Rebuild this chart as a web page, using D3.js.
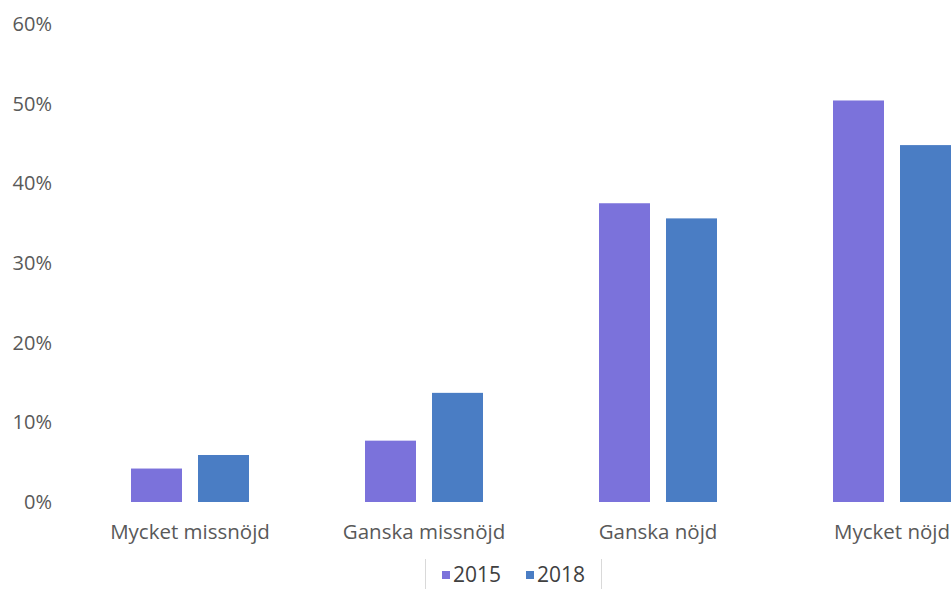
<!DOCTYPE html>
<html>
<head>
<meta charset="utf-8">
<script src="https://cdn.jsdelivr.net/npm/d3@7"></script>
<style>
  body { margin: 0; background: #fff; }
  svg { display: block; }
</style>
</head>
<body>
<div id="chart"></div>
<script>
// data
var categories = ["Mycket missnöjd", "Ganska missnöjd", "Ganska nöjd", "Mycket nöjd"];
var years = ["2015", "2018"];
var values2015 = [4.2, 7.7, 37.5, 50.4];
var values2018 = [5.9, 13.7, 35.6, 44.8];
var yTicks = [0, 10, 20, 30, 40, 50, 60];
var colors = ["#7b72db", "#4a7dc4"];

var width = 951, height = 589;

var svg = d3.select('#chart').append('svg')
  .attr("width", width)
  .attr("height", height);

var x = d3.scaleBand()
  .domain(categories)
  .range([73, 1009])
  .padding(0);

var xInner = d3.scaleBand()
  .domain(years)
  .range([0, 118])
  .paddingInner(0.239)
  .paddingOuter(0);

var y = d3.scaleLinear()
  .domain([0, 60])
  .range([502, 24]);

var color = d3.scaleOrdinal().domain(years).range(colors);

var rows = categories.map(function(c, i){
  return {cat: c, vals: [
    {year: "2015", v: values2015[i]},
    {year: "2018", v: values2018[i]}
  ]};
});

// y axis labels only, no line
var yAxis = d3.axisLeft(y)
  .tickValues(yTicks)
  .tickFormat(function(d){ return d + "%"; })
  .tickSize(0)
  .tickPadding(0);

var gy = svg.append("g")
  .attr("transform", "translate(52,0)")
  .call(yAxis);
gy.select(".domain").remove();
gy.selectAll("text")
  .attr("font-family", "Open Sans")
  .attr("font-size", "20px")
  .attr("fill", "#595959");

var groups = svg.selectAll(".grp")
  .data(rows)
  .enter()
  .append("g")
  .attr("class", "grp")
  .attr("transform", function(d){ return "translate(" + (x(d.cat) + (x.bandwidth() - 118) / 2) + ",0)"; });

groups.selectAll("rect")
  .data(function(d){ return d.vals; })
  .enter()
  .append("rect")
  .attr("x", function(d){ return xInner(d.year); })
  .attr("y", function(d){ return y(d.v); })
  .attr("width", xInner.bandwidth())
  .attr("height", function(d){ return y(0) - y(d.v); })
  .attr("fill", function(d){ return color(d.year); });

// x axis labels
var xAxis = d3.axisBottom(x).tickSize(0).tickPadding(0);
var gx = svg.append("g")
  .attr("transform", "translate(0,520)")
  .call(xAxis);
gx.select(".domain").remove();
gx.selectAll("text")
  .attr("font-family", "Open Sans")
  .attr("font-size", "20.5px")
  .attr("fill", "#595959")
  .attr("dy", "0.35em")
  .attr("y", 12);

// legend
var legend = svg.append("g");
legend.append("line")
  .attr("x1", 425.5).attr("x2", 425.5).attr("y1", 559).attr("y2", 589)
  .attr("stroke", "#d9d9d9");
legend.append("line")
  .attr("x1", 601.5).attr("x2", 601.5).attr("y1", 559).attr("y2", 589)
  .attr("stroke", "#d9d9d9");

var legendX = [442, 526];
var items = legend.selectAll(".item")
  .data(years)
  .enter()
  .append("g")
  .attr("class", "item")
  .attr("transform", function(d, i){ return "translate(" + legendX[i] + ",0)"; });

items.append("rect")
  .attr("x", 0).attr("y", 571)
  .attr("width", 8).attr("height", 8)
  .attr("fill", function(d){ return color(d); });

items.append("text")
  .text(function(d){ return d; })
  .attr("x", 11)
  .attr("y", 575)
  .attr("dy", "0.35em")
  .attr("font-family", "Open Sans")
  .attr("font-size", "21px")
  .attr("fill", "#404040");
</script>
</body>
</html>
